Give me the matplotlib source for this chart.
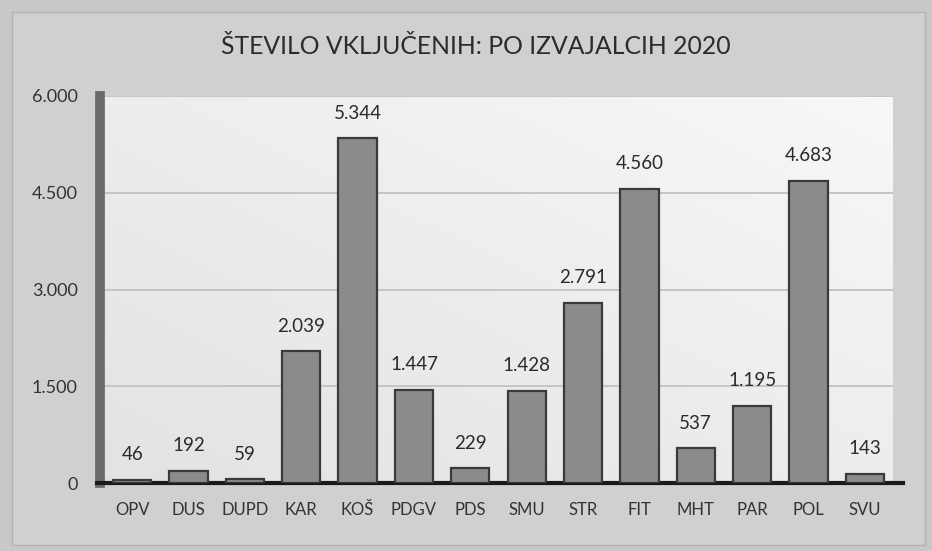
import numpy as np
import matplotlib
matplotlib.use("Agg")
import matplotlib.pyplot as plt
from matplotlib.patches import Rectangle

categories = ["OPV", "DUS", "DUPD", "KAR", "KOŠ", "PDGV", "PDS", "SMU",
              "STR", "FIT", "MHT", "PAR", "POL", "SVU"]
values = [46, 192, 59, 2039, 5344, 1447, 229, 1428, 2791, 4560, 537, 1195, 4683, 143]
yticks = [0, 1500, 3000, 4500, 6000]
ytick_labels = ["0", "1.500", "3.000", "4.500", "6.000"]
title = "ŠTEVILO VKLJUČENIH: PO IZVAJALCIH 2020"

plt.rcParams["font.family"] = ["Lato", "DejaVu Sans"]

fig = plt.figure(figsize=(9.32, 5.51), dpi=100)
fig.patch.set_facecolor("#c8c8c8")

# outer chart frame
fig.patches.append(Rectangle((12 / 932, 6 / 551), 913 / 932, 533 / 551,
                             transform=fig.transFigure, facecolor="#d0d0d0",
                             edgecolor="#b3b3b3", lw=1, zorder=-5))

ax = fig.add_axes([104 / 932, 1 - 483 / 551, 789 / 932, 387 / 551])
ax.set_zorder(1)
ax.set_facecolor("#ebebeb")

# soft gradient in plot area: lighter towards the top right
g = np.add.outer(np.linspace(0, 1, 60), np.linspace(0, 1, 60)) / 2
shade = 0.89 + 0.08 * g
rgb = np.dstack([shade, shade, shade])
ax.imshow(rgb, extent=(-0.5, 13.5, 0, 6000), origin="lower",
          aspect="auto", zorder=0, interpolation="bilinear")

x = np.arange(len(categories))
ax.bar(x, values, width=0.68, color="#8b8b8b", edgecolor="#3a3a3a", lw=1.6, zorder=3)

for xi, v in zip(x, values):
    label = f"{v:,}".replace(",", ".")
    ax.annotate(label, (xi, v), xytext=(0, 12), textcoords="offset points",
                ha="center", va="bottom", fontsize=13.5, color="#2b2b2b")

ax.set_xlim(-0.5, len(categories) - 0.5)
ax.set_ylim(0, 6000)
ax.set_yticks(yticks)
ax.set_yticklabels(ytick_labels)
ax.set_xticks(x)
ax.set_xticklabels(categories)
ax.grid(axis="y", color="#c2c2c2", lw=1.3, zorder=1)
ax.set_axisbelow(True)
ax.tick_params(axis="both", length=0, colors="#333333")
ax.tick_params(axis="y", pad=16, labelsize=13)
ax.tick_params(axis="x", pad=14, labelsize=12)

for s in ["top", "right"]:
    ax.spines[s].set_visible(False)
ax.spines["bottom"].set_color("#1a1a1a")
ax.spines["bottom"].set_linewidth(3)
ax.spines["bottom"].set_bounds(-0.62, 13.68)
ax.spines["left"].set_color("#6a6a6a")
ax.spines["left"].set_linewidth(7)
ax.spines["left"].set_position(("outward", 3))

fig.text(476 / 932, 1 - 47 / 551, title, ha="center", va="center",
         fontsize=17.8, color="#2b2b2b")

fig.savefig("out.png", dpi=100, facecolor=fig.get_facecolor())
